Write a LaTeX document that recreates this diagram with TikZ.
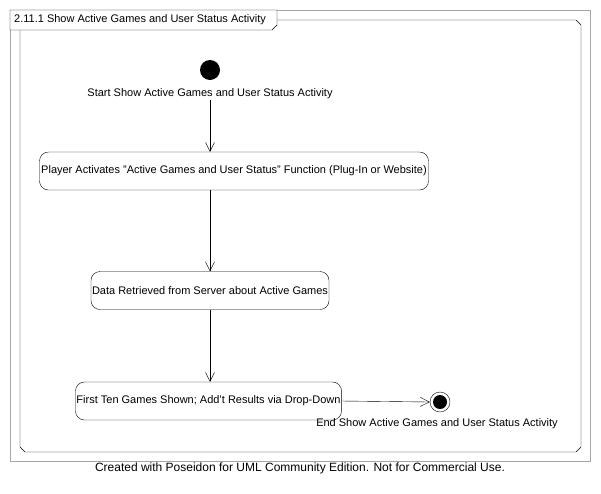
\documentclass[tikz,border=0pt]{standalone}
\usepackage{fontspec}
\setmainfont{Liberation Sans}
\usepackage{tikz}
\usetikzlibrary{
    arrows.meta,
    calc,
    positioning
}

\begin{document}
\begin{tikzpicture}[x=1pt, y=-1pt, font=\fontsize{11}{13}\selectfont,
    actbox/.style={draw=black, rounded corners=9pt, minimum height=38pt, inner sep=1pt},
    flow/.style={-{Straight Barb[length=9pt, width=9pt]}, black}]
                        \useasboundingbox (0, 0) rectangle (601, 493);
                        \draw[gray!70] (10, 10) rectangle (590, 461);
                        \draw (277, 20) -- (576, 20) -- (581, 25) -- (581, 447) -- (576, 452)
                              -- (25, 452) -- (20, 447) -- (20, 30);
                        \draw[fill=white] (10, 10) -- (277, 10) -- (277, 25) -- (272, 30) -- (10, 30) -- cycle;
                        \node[anchor=west, inner sep=0pt] (title) at (14, 20) {2.11.1 Show Active Games and User Status Activity};

                        \node[circle, fill=black, inner sep=0pt, minimum size=20pt] (start) at (210, 70) {};
                        \node[inner sep=1pt] (startlbl) at (210, 94) {Start Show Active Games and User Status Activity};
                        \node[actbox, minimum width=389pt] (act1) at (234, 171) {Player Activates "Active Games and User Status" Function (Plug-In or Website)};
                        \node[actbox, minimum width=238pt] (act2) at (210, 290.5) {Data Retrieved from Server about Active Games};
                        \node[actbox, minimum width=259pt] (act3) at (208.5, 401) {First Ten Games Shown; Add't Results via Drop-Down};
                        \node[circle, draw=black, inner sep=0pt, minimum size=20pt] (end) at (440, 402) {};
                        \node[circle, fill=black, inner sep=0pt, minimum size=14pt] (endin) at (end) {};
                        \node[inner sep=1pt] (endlbl) at (437, 424) {End Show Active Games and User Status Activity};
                        \node[font=\fontsize{12}{14}\selectfont] (credit) at (300, 468) {Created with Poseidon for UML Community Edition. Not for Commercial Use.};

                        \draw
                        (startlbl.south) edge[flow] (startlbl.south |- act1.north)
                        (act2.north |- act1.south) edge[flow] (act2.north)
                        (act2.south) edge[flow] (act2.south |- act3.north)
                        (act3.east) edge[flow] (end.west);
                    \end{tikzpicture}
\end{document}
